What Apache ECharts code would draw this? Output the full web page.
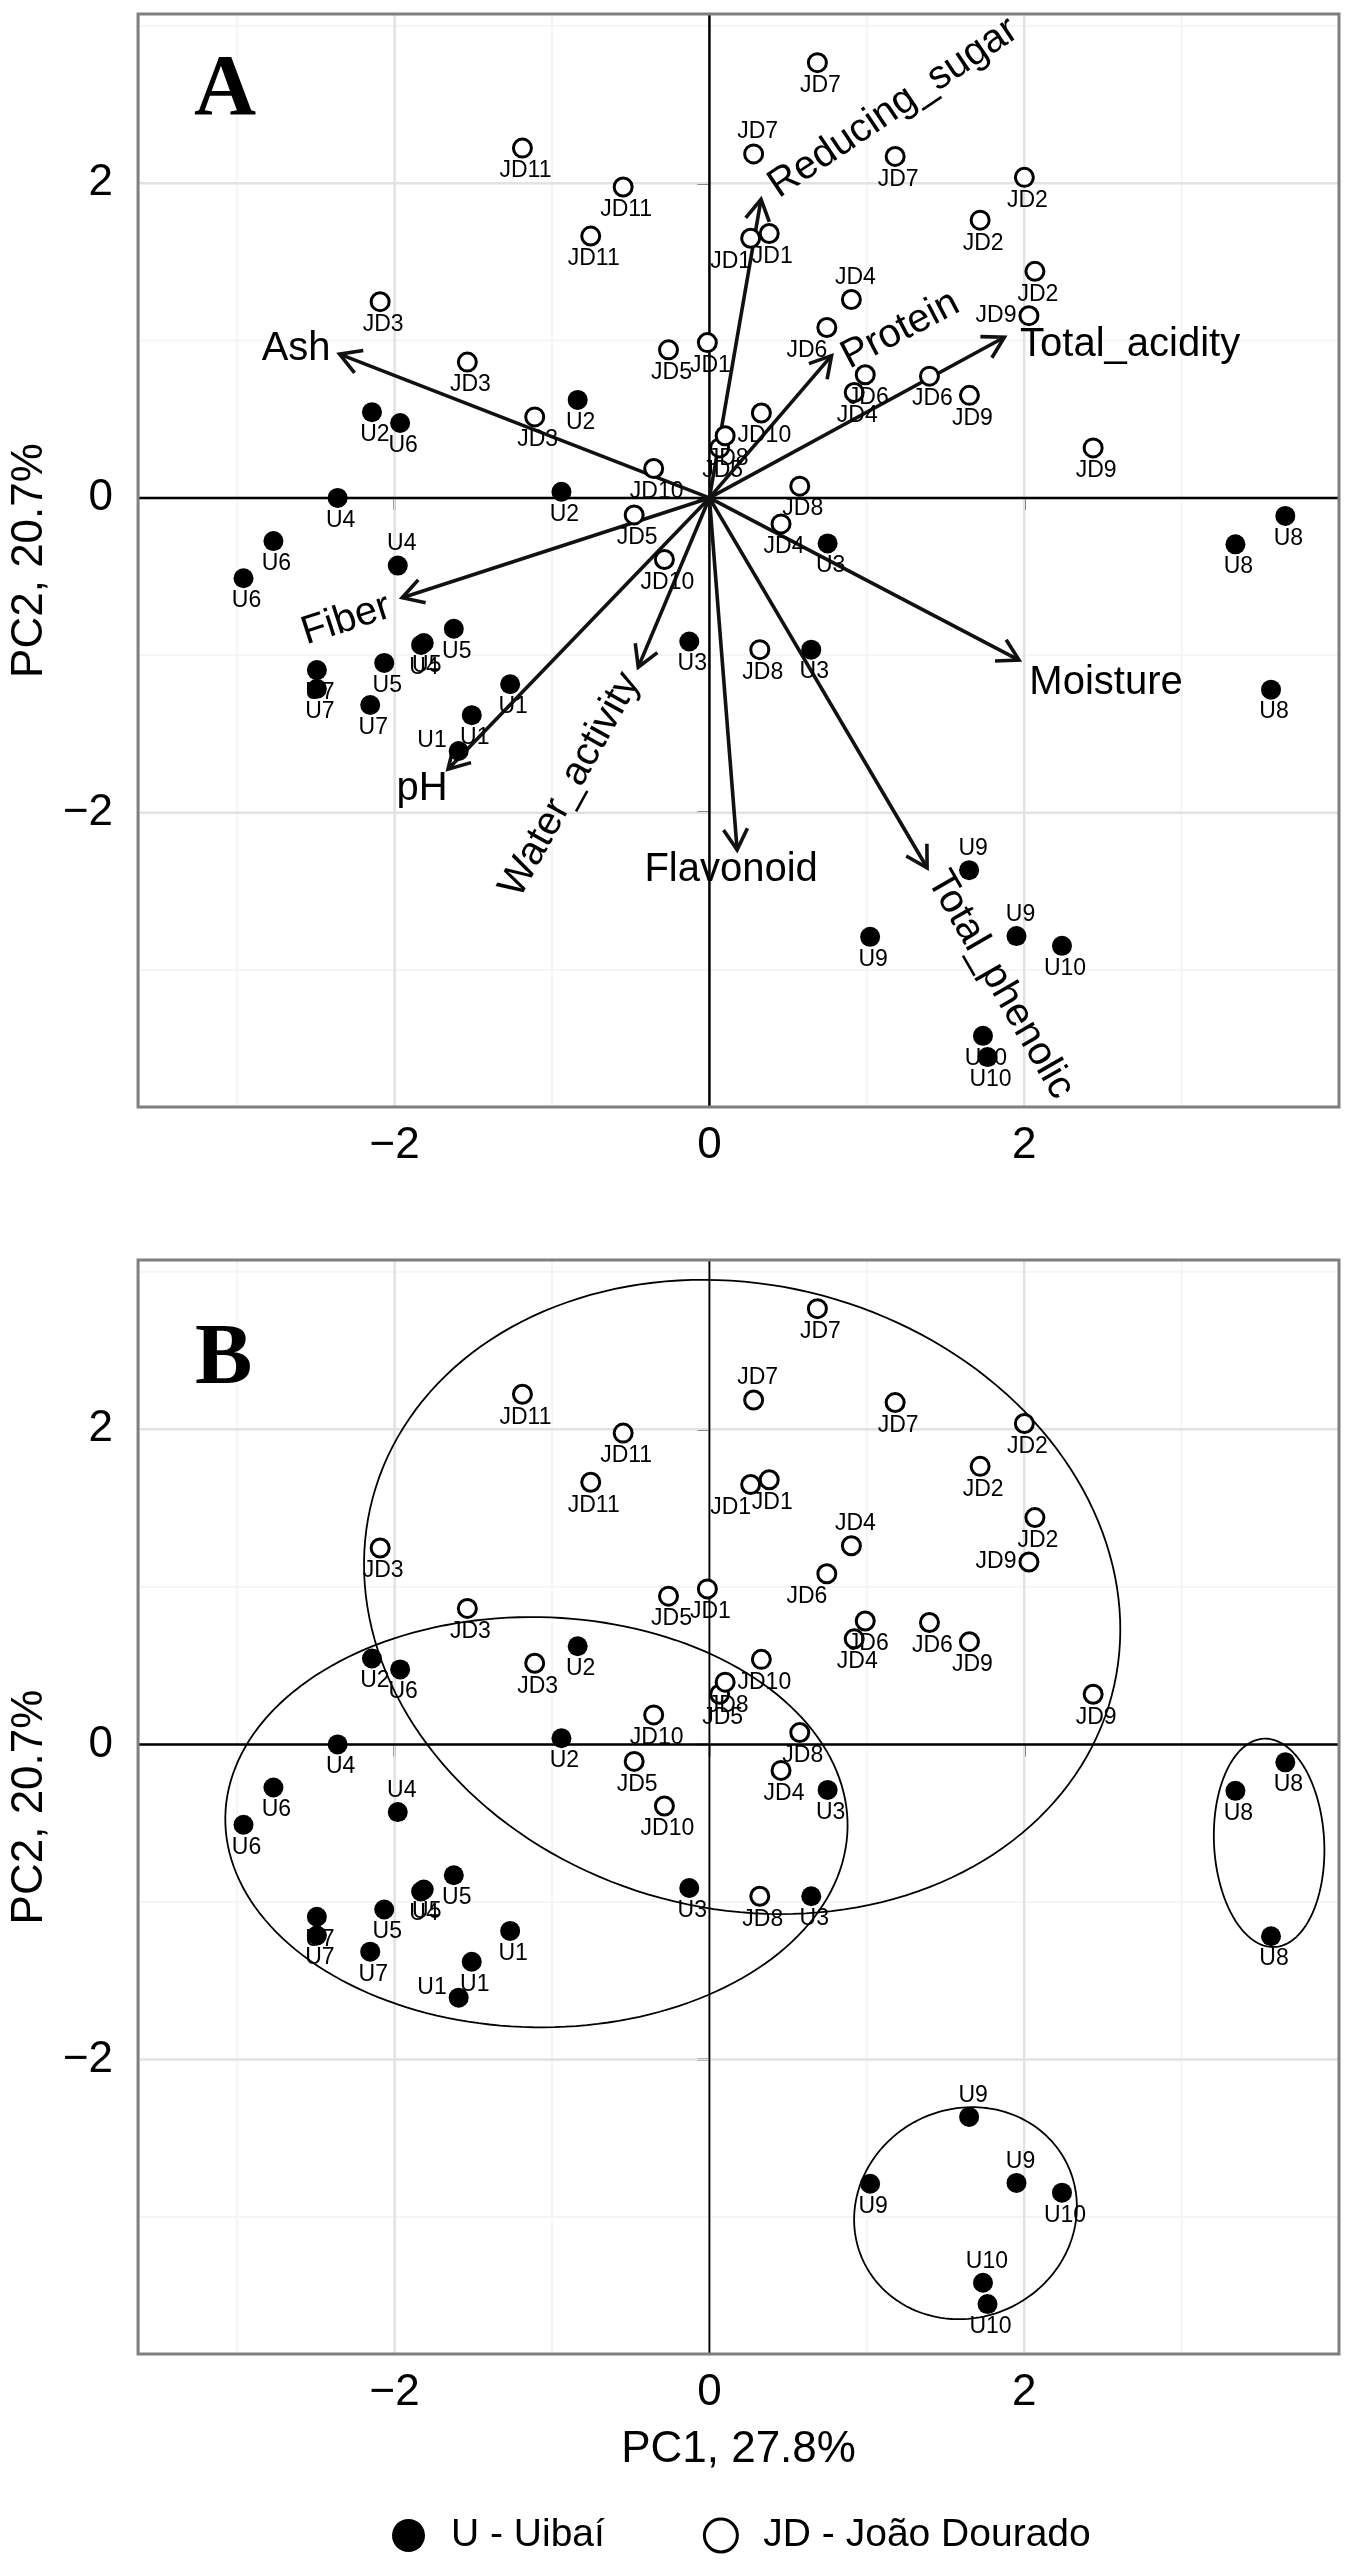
<!DOCTYPE html>
<html>
<head>
<meta charset="utf-8">
<style>html,body{margin:0;padding:0;background:#fff}#c{width:1355px;height:2566px}</style>
<script src="https://cdn.jsdelivr.net/npm/echarts@6/dist/echarts.min.js"></script>
</head>
<body>
<div id="c"></div>
<script>
// ---------------- data ----------------
const uNames = ['U1','U1','U1','U2','U2','U2','U3','U3','U3','U4','U4','U4','U5','U5','U5','U6','U6','U6','U7','U7','U7','U8','U8','U8','U9','U9','U9','U10','U10','U10'];
const uPC1 = [-1.266,-1.510,-1.593, -2.144,-0.837,-0.940, 0.751,-0.128,0.647, -2.362,-1.980,-1.832, -2.066,-1.624,-1.815, -1.965,-2.770,-2.960, -2.494,-2.494,-2.155, 3.659,3.342,3.568, 1.650,1.951,1.021, 2.240,1.738,1.767];
const uPC2 = [-1.184,-1.380,-1.608, 0.545,0.623,0.039, -0.289,-0.912,-0.964, 0.000,-0.430,-0.934, -1.048,-0.831,-0.922, 0.476,-0.274,-0.510, -1.094,-1.213,-1.316, -0.114,-0.295,-1.218, -2.365,-2.784,-2.789, -2.846,-3.418,-3.553];

const jdNames = ['JD1','JD1','JD1','JD2','JD2','JD2','JD3','JD3','JD3','JD4','JD4','JD4','JD5','JD5','JD5','JD6','JD6','JD6','JD7','JD7','JD7','JD8','JD8','JD8','JD9','JD9','JD9','JD10','JD10','JD10','JD11','JD11','JD11'];
const jdPC1 = [0.262,0.380,-0.013, 2.001,1.720,2.068, -2.092,-1.538,-1.110, 0.902,0.920,0.455, -0.260,-0.478,0.065, 0.746,0.990,1.398, 0.686,0.281,1.180, 0.574,0.320,0.100, 2.030,1.652,2.438, -0.354,-0.286,0.330, -1.188,-0.548,-0.754];
const jdPC2 = [1.650,1.680,0.987, 2.037,1.765,1.440, 1.247,0.863,0.515, 1.261,0.670,-0.165, 0.941,-0.108,0.318, 1.083,0.783,0.774, 2.766,2.186,2.170, 0.075,-0.964,0.395, 1.158,0.652,0.318, 0.187,-0.391,0.540, 2.223,1.976,1.664];

const varNames = ['Ash','Reducing_sugar','Protein','Total_acidity','Moisture','Total_phenolic','Flavonoid','Water_activity','pH','Fiber'];
const varPC1 = [-2.350, 0.328, 0.776, 1.874, 1.967, 1.383, 0.176, -0.452, -1.661, -1.952];
const varPC2 = [ 0.914, 1.897, 0.904, 1.021, -1.030, -2.350, -2.236, -1.075, -1.724, -0.634];

// confidence ellipses (panel B): centre, semi-axes, rotation in degrees
const ellCx  = [0.208, -1.099, 3.556, 1.627];
const ellCy  = [0.936, -0.494, -0.625, -2.976];
const ellA   = [2.430, 1.977, 0.350, 0.717];
const ellB   = [1.980, 1.302, 0.662, 0.663];
const ellRot = [-15, -1, 3, 25];

const xTicks = [-2, 0, 2];
const yTicks = [-2, 0, 2];
const xMinor = [-3, -1, 1, 3];
const yMinor = [-3, -1, 1, 3];

const groupU = 'U - Uibaí';
const groupJD = 'JD - João Dourado';
const xTitle = 'PC1, 27.8%';
const yTitle = 'PC2, 20.7%';

// ---------------- layout / style ----------------
const FF = '"Liberation Sans", Arial, Helvetica, sans-serif';
// variable label anchors (data units) and rotation (deg)
const varLabX = [-2.626, 1.169, 1.213, 2.673, 2.520, 1.848, 0.138, -0.884, -1.826, -2.308];
const varLabY = [ 0.947, 2.478, 1.067, 0.972, -1.175, -3.094, -2.363, -1.823, -1.849, -0.775];
const varLabRot = [0, 34, 27.5, 0, 0, -60, 0, 61, 0, 18];

// label placement codes: b = below, t = above, l = left, bl = below-left
const uPlaceA = ['b','b','l','b','b','b','b','b','b','b','t','b','b','b','b','b','b','b','b','b','b','b','b','b','t','t','b','b','b','b'];
const uPlaceB = ['b','b','l','b','b','b','b','b','b','b','t','b','b','b','b','b','b','b','b','b','b','b','b','b','t','t','b','b','t','b'];
const jdPlace = ['bl','b','b','b','b','b','b','b','b','t','b','b','b','b','b','bl','b','b','b','t','b','b','b','b','l','b','b','b','b','b','b','b','b'];

function labelFor(code) {
  if (code === 't') return {position: 'top', distance: 0, offset: [4, 0]};
  if (code === 'l') return {position: 'left', distance: 2, offset: [0, 0]};
  if (code === 'bl') return {position: 'bottom', distance: 1, offset: [-20, 0]};
  return {position: 'bottom', distance: 1, offset: [3, 0]};
}

function pointsData(names, xs, ys, places) {
  return names.map((n, i) => ({name: n, value: [xs[i], ys[i]], label: labelFor(places[i])}));
}
// U1 third replicate label sits left and a bit higher
function fixU1(arr) { arr[2].label.offset = [0, -10]; return arr; }

const fmt = v => (v < 0 ? '\u2212' : '') + Math.abs(v);

function axisX(i, withName) {
  const ax = {
    gridIndex: i, type: 'value', min: -3.63, max: 4.0,
    axisLine: {show: false}, splitLine: {show: false}, minorSplitLine: {show: false},
    axisTick: {show: true, customValues: xTicks, length: 12, inside: false, lineStyle: {color: '#333', width: 3}},
    axisLabel: {customValues: xTicks, formatter: fmt, fontSize: 44, color: '#000', margin: 17, fontFamily: FF}
  };
  if (withName) {
    ax.name = xTitle; ax.nameLocation = 'middle'; ax.nameGap = 74;
    ax.nameTextStyle = {fontSize: 44, color: '#000', fontFamily: FF};
  }
  return ax;
}
function axisY(i) {
  return {
    gridIndex: i, type: 'value', min: -3.87, max: 3.075,
    axisLine: {show: false}, splitLine: {show: false},
    axisTick: {show: true, customValues: yTicks, length: 12, inside: false, lineStyle: {color: '#333', width: 3}},
    axisLabel: {customValues: yTicks, formatter: fmt, fontSize: 44, color: '#000', margin: 25, fontFamily: FF},
    name: yTitle, nameLocation: 'middle', nameGap: 84,
    nameTextStyle: {fontSize: 44, color: '#000', fontFamily: FF}
  };
}

function backgroundSeries(i, vZeroWidth) {
  return {
    type: 'custom', xAxisIndex: i, yAxisIndex: i, silent: true, z: 1, clip: false,
    data: [[0, 0]],
    renderItem(params, api) {
      const cs = params.coordSys;
      const ch = [];
      const vline = (v, color, w) => { const p = api.coord([v, 0]); ch.push({type: 'line', shape: {x1: p[0], y1: cs.y, x2: p[0], y2: cs.y + cs.height}, style: {stroke: color, lineWidth: w}}); };
      const hline = (v, color, w) => { const p = api.coord([0, v]); ch.push({type: 'line', shape: {x1: cs.x, y1: p[1], x2: cs.x + cs.width, y2: p[1]}, style: {stroke: color, lineWidth: w}}); };
      xMinor.forEach(v => vline(v, '#f5f5f5', 2));
      yMinor.forEach(v => hline(v, '#f5f5f5', 2));
      xTicks.forEach(v => vline(v, '#e2e2e2', 2.5));
      yTicks.forEach(v => hline(v, '#e2e2e2', 2.5));
      hline(0, '#000', 2.5);
      vline(0, '#000', vZeroWidth);
      return {type: 'group', children: ch};
    }
  };
}
function frameSeries(i) {
  return {
    type: 'custom', xAxisIndex: i, yAxisIndex: i, silent: true, z: 10, clip: false,
    data: [[0, 0]],
    renderItem(params, api) {
      const cs = params.coordSys;
      return {type: 'rect', shape: {x: cs.x, y: cs.y, width: cs.width, height: cs.height}, style: {fill: 'none', stroke: '#7f7f7f', lineWidth: 3}};
    }
  };
}

const arrowData = varNames.map((n, i) => ({name: n, value: [varPC1[i], varPC2[i]]}));
const arrowSeries = {
  type: 'custom', xAxisIndex: 0, yAxisIndex: 0, silent: true, z: 3, clip: false,
  data: arrowData,
  renderItem(params, api) {
    const o = api.coord([0, 0]);
    const t = api.coord([api.value(0), api.value(1)]);
    const dx = t[0] - o[0], dy = t[1] - o[1];
    const len = Math.hypot(dx, dy);
    const ux = dx / len, uy = dy / len;
    const L = 24, ang = Math.PI / 6;
    const arm = s => {
      const c = Math.cos(s * ang), sn = Math.sin(s * ang);
      const rx = ux * c - uy * sn, ry = ux * sn + uy * c;
      return [t[0] - L * rx, t[1] - L * ry];
    };
    const st = {stroke: '#111', lineWidth: 3.6, lineCap: 'butt', lineJoin: 'miter', fill: 'none'};
    return {type: 'group', children: [
      {type: 'line', shape: {x1: o[0], y1: o[1], x2: t[0], y2: t[1]}, style: st},
      {type: 'polyline', shape: {points: [arm(1), t, arm(-1)]}, style: st}
    ]};
  }
};
const arrowLabelSeries = {
  type: 'custom', xAxisIndex: 0, yAxisIndex: 0, silent: true, z: 6, clip: false,
  data: arrowData,
  renderItem(params, api) {
    const i = params.dataIndex;
    const p = api.coord([varLabX[i], varLabY[i]]);
    return {type: 'text', x: p[0], y: p[1], rotation: varLabRot[i] * Math.PI / 180,
      style: {text: varNames[i], fontSize: 40, fontFamily: FF, fill: '#000', align: 'center', verticalAlign: 'middle'}};
  }
};

const ellipseSeries = {
  type: 'custom', xAxisIndex: 1, yAxisIndex: 1, silent: true, z: 2, clip: false,
  data: ellCx.map((c, i) => [c, ellCy[i]]),
  renderItem(params, api) {
    const i = params.dataIndex;
    const r = ellRot[i] * Math.PI / 180, cr = Math.cos(r), sr = Math.sin(r);
    const pts = [];
    for (let k = 0; k <= 180; k++) {
      const t = k / 180 * 2 * Math.PI;
      const ex = ellA[i] * Math.cos(t), ey = ellB[i] * Math.sin(t);
      pts.push(api.coord([ellCx[i] + ex * cr - ey * sr, ellCy[i] + ex * sr + ey * cr]));
    }
    return {type: 'polyline', shape: {points: pts}, style: {stroke: '#000', lineWidth: 1.8, fill: 'none'}};
  }
};

const baseLabel = {show: true, formatter: '{b}', fontSize: 23, color: '#000', fontFamily: FF};
function scatterU(i, places) {
  return {type: 'scatter', name: groupU, xAxisIndex: i, yAxisIndex: i, z: 4, symbol: 'circle', symbolSize: 20,
    itemStyle: {color: '#000', opacity: 1}, label: baseLabel, emphasis: {disabled: true},
    data: fixU1(pointsData(uNames, uPC1, uPC2, places))};
}
function scatterJD(i) {
  return {type: 'scatter', name: groupJD, xAxisIndex: i, yAxisIndex: i, z: 4, symbol: 'circle', symbolSize: 18,
    itemStyle: {color: '#fff', borderColor: '#000', borderWidth: 3, opacity: 1}, label: baseLabel, emphasis: {disabled: true},
    data: pointsData(jdNames, jdPC1, jdPC2, jdPlace)};
}

const chart = echarts.init(document.getElementById('c'), null, {renderer: 'canvas', width: 1355, height: 2566});
chart.setOption({
  animation: false,
  backgroundColor: '#fff',
  textStyle: {fontFamily: FF},
  grid: [
    {left: 137, top: 14, width: 1202, height: 1093, show: true, backgroundColor: '#fff', borderWidth: 0},
    {left: 137, top: 1260, width: 1202, height: 1094, show: true, backgroundColor: '#fff', borderWidth: 0}
  ],
  xAxis: [axisX(0, false), axisX(1, true)],
  yAxis: [axisY(0), axisY(1)],
  legend: {
    left: 387, top: 2511, itemWidth: 33, itemHeight: 33, itemGap: 98, selectedMode: false,
    textStyle: {fontSize: 39, color: '#000', fontFamily: FF, padding: [0, 0, 0, 21]},
    data: [
      {name: groupU, icon: 'circle', itemStyle: {color: '#000', borderWidth: 0, opacity: 1}},
      {name: groupJD, icon: 'circle', itemStyle: {color: '#fff', borderColor: '#000', borderWidth: 3, opacity: 1}}
    ]
  },
  graphic: [
    {type: 'text', x: 194, y: 92, style: {text: 'A', fontSize: 86, fontWeight: 'bold', fontFamily: '"Liberation Serif", "Times New Roman", serif', fill: '#000', align: 'left', verticalAlign: 'middle'}, z: 20},
    {type: 'text', x: 195, y: 1361, style: {text: 'B', fontSize: 86, fontWeight: 'bold', fontFamily: '"Liberation Serif", "Times New Roman", serif', fill: '#000', align: 'left', verticalAlign: 'middle'}, z: 20}
  ],
  series: [
    backgroundSeries(0, 2.5),
    arrowSeries,
    scatterU(0, uPlaceA),
    scatterJD(0),
    arrowLabelSeries,
    frameSeries(0),
    backgroundSeries(1, 1.8),
    ellipseSeries,
    scatterU(1, uPlaceB),
    scatterJD(1),
    frameSeries(1)
  ]
});
</script>
</body>
</html>
